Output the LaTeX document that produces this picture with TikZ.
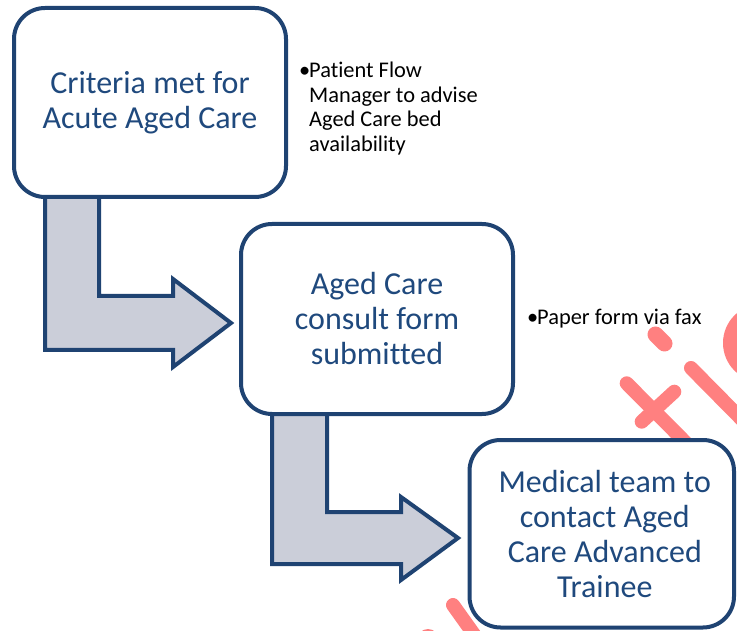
\documentclass[tikz,border=0pt]{standalone}
\usepackage{fontspec}
\setmainfont{Carlito}[Ligatures=NoCommon]
\usetikzlibrary{backgrounds,calc}
\definecolor{frameblue}{HTML}{1F4372}
\definecolor{labelblue}{HTML}{1F497D}
\definecolor{arrowfill}{HTML}{CBCED9}
\definecolor{markred}{HTML}{FF8080}
\tikzset{
  stepbox/.style={draw=frameblue, line width=4pt, fill=white, rounded corners=31pt,
    inner sep=0pt, align=center, text=labelblue, font=\fontsize{32}{35}\selectfont},
  flowarrow/.style={draw=frameblue, line width=4pt, fill=arrowfill, line join=miter},
  notetext/.style={inner sep=0pt, font=\fontsize{22.4}{24.5}\selectfont, text=black},
  markstroke/.style={draw=markred, line width=14pt, line cap=round},
}
\newcommand{\bul}{\makebox[10pt][l]{\textbullet}}
\begin{document}
\begin{tikzpicture}[x=1pt,y=-1pt]
  \clip (0,0) rectangle (737,631);

  % process steps
  \node[stepbox, minimum width=272pt, minimum height=189pt] (b1) at (150,102.5)
    {Criteria met for\\Acute Aged Care};
  \node[stepbox, minimum width=272pt, minimum height=190pt] (b2) at (377,319)
    {Aged Care\\consult form\\submitted};
  \node[stepbox, minimum width=264.5pt, minimum height=187.5pt] (b3) at (601.75,533.75)
    {\hspace*{6pt}Medical team to\\\hspace*{6pt}contact Aged\\\hspace*{6pt}Care Advanced\\\hspace*{6pt}Trainee};

  % side notes
  \node[notetext, anchor=base west] (n1) at (299,78)
    {\begin{tabular}[t]{@{}l@{}l@{}}\bul&Patient Flow\\&Manager to advise\\&Aged Care bed\\&availability\end{tabular}};
  \node[notetext, anchor=base west] (n2) at (527,325) {\bul Paper form via fax};

  % arrow tips just left of the next step
  \coordinate (t1) at ($(b2.west)+(-8,4)$);
  \coordinate (t2) at ($(b3.west)+(-9.5,4.25)$);

  \begin{scope}[on background layer]
    % logo marks behind the steps
    \fill[markred] (762,343) circle[radius=39pt];
    \draw[markstroke, line width=16pt] (655.5,334.5) -- (664.5,343.5);
    \draw[markstroke] (626.7,383.3) -- (700,457);
    \draw[markstroke] (641.7,421.7) -- (674.3,391.7);
    \draw[markstroke] (691,368) -- (770,448);
    \draw[markstroke] (453,605) -- (478,640);
    \fill[markred] (428,640) circle[radius=11pt];

    % bent block arrows between the steps
    \draw[flowarrow] (45,190) -- (99,190) -- (99,296) -- (173,296) -- (173,279)
      -- (t1) -- (173,367) -- (173,350) -- (45,350) -- cycle;
    \draw[flowarrow] (272,408) -- (327,408) -- (327,512) -- (401,512) -- (401,497)
      -- (t2) -- (401,580) -- (401,564) -- (272,564) -- cycle;
  \end{scope}
\end{tikzpicture}
\end{document}
